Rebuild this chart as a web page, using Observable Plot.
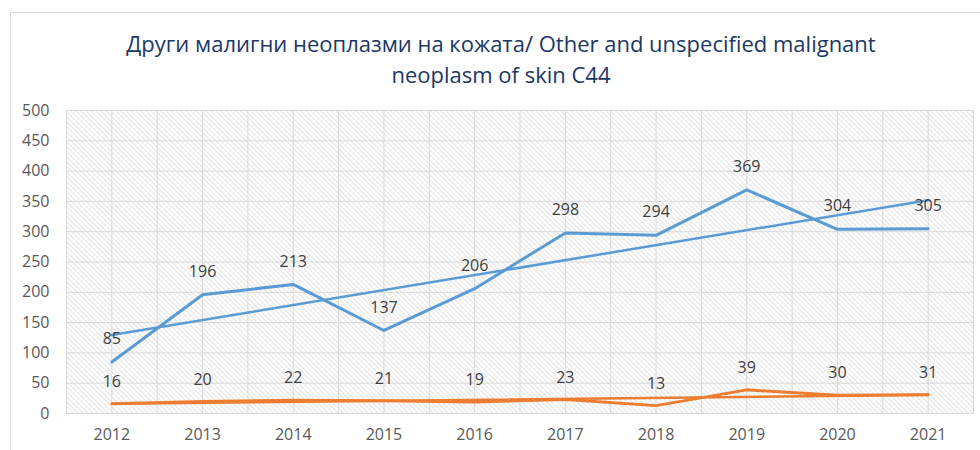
<!DOCTYPE html>
<html><head><meta charset="utf-8">
<script src="https://cdn.jsdelivr.net/npm/d3@7"></script>
<script src="https://cdn.jsdelivr.net/npm/@observablehq/plot@0.6"></script>
<style>
body{margin:0;background:#fff;font-family:"Open Sans",sans-serif;overflow:hidden;}
#wrap{position:absolute;left:10px;top:12px;width:980px;height:450px;border-left:1px solid #d9d9d9;border-top:1px solid #d9d9d9;}
#title{text-align:center;color:#203864;font-size:22px;line-height:31px;padding-top:15px;height:63px;width:980px;}
</style></head><body>
<div id="wrap"><div id="title">Други малигни неоплазми на кожата/ Other and unspecified malignant<br>neoplasm of skin C44</div><div id="chart"></div></div>
<script>
const years = [2012, 2013, 2014, 2015, 2016, 2017, 2018, 2019, 2020, 2021];
const blueValues = [85, 196, 213, 137, 206, 298, 294, 369, 304, 305];
const orangeValues = [16, 20, 22, 21, 19, 23, 13, 39, 30, 31];
const yTicks = [0, 50, 100, 150, 200, 250, 300, 350, 400, 450, 500];

const blue = years.map((y, i) => ({year: y, value: blueValues[i]}));
const orange = years.map((y, i) => ({year: y, value: orangeValues[i]}));
const xGrid = d3.range(years[0] - 0.5, years[years.length - 1] + 1, 0.5);

const BLUE = "#5B9BD5", ORANGE = "#ED7D31", GRID = "#d9d9d9";
const font = "'Open Sans', sans-serif";

const chart = Plot.plot({
  width: 969,
  height: 359,
  marginTop: 19,
  marginBottom: 37,
  marginLeft: 55,
  marginRight: 7,
  style: {fontFamily: font, fontSize: "16px", color: "#595959", background: "transparent"},
  x: {type: "linear", domain: [years[0] - 0.5, years[years.length - 1] + 0.5]},
  y: {domain: [0, 500]},
  marks: [
    Plot.frame({fill: "url(#hatch)", stroke: null}),
    Plot.ruleY(yTicks, {stroke: GRID, strokeWidth: 1}),
    Plot.ruleX(xGrid, {stroke: GRID, strokeWidth: 1}),
    Plot.axisX({ticks: years, tickFormat: d => String(d), tickSize: 0, tickPadding: 15, fontSize: 16, fill: "#595959", label: null}),
    Plot.axisY({ticks: yTicks, tickSize: 0, tickPadding: 17, fontSize: 16, fill: "#595959", label: null}),
    Plot.linearRegressionY(orange, {x: "year", y: "value", stroke: ORANGE, strokeWidth: 2.5, ci: 0}),
    Plot.line(orange, {x: "year", y: "value", stroke: ORANGE, strokeWidth: 3}),
    Plot.linearRegressionY(blue, {x: "year", y: "value", stroke: BLUE, strokeWidth: 2.5, ci: 0}),
    Plot.line(blue, {x: "year", y: "value", stroke: BLUE, strokeWidth: 3}),
    Plot.text(blue, {x: "year", y: "value", text: d => String(d.value), dy: -23, fill: "#404040", fontSize: 16}),
    Plot.text(orange, {x: "year", y: "value", text: d => String(d.value), dy: -22, fill: "#404040", fontSize: 16})
  ]
});

const svg = d3.select(chart);
const defs = svg.insert("defs", ":first-child");
const pat = defs.append("pattern").attr("id", "hatch").attr("patternUnits", "userSpaceOnUse")
  .attr("width", 5).attr("height", 5);
pat.append("rect").attr("width", 5).attr("height", 5).attr("fill", "#ffffff");
pat.append("path").attr("d", "M-1,-1L6,6M-1,4L1,6M4,-1L6,1").attr("stroke", "#d4d4d4").attr("stroke-width", 1);

document.getElementById("chart").appendChild(chart);
</script>
</body></html>
